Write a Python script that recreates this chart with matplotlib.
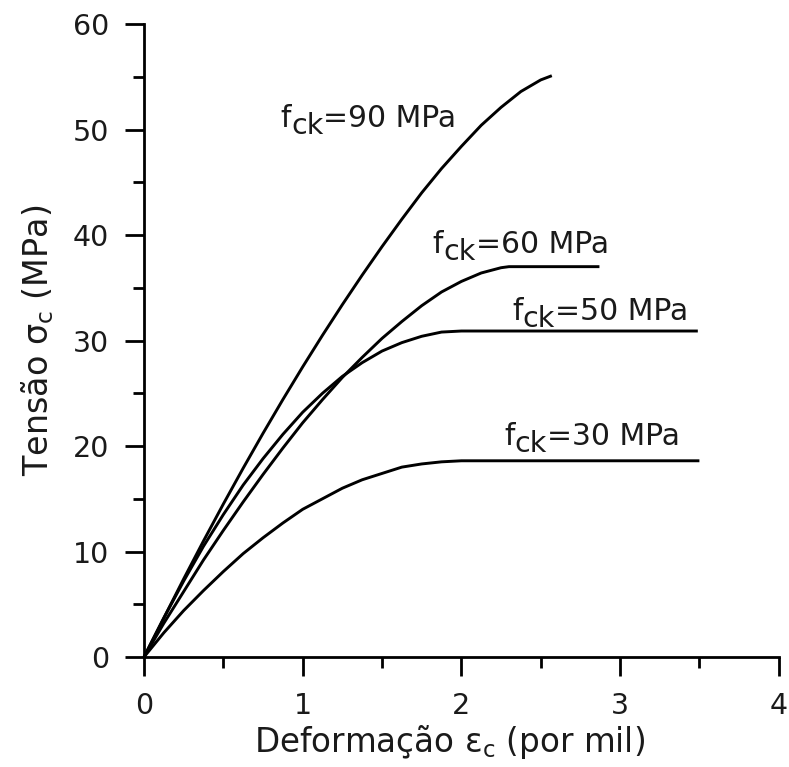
import matplotlib
matplotlib.use("Agg")
import matplotlib.pyplot as plt
from matplotlib.ticker import MultipleLocator

plt.rcParams['font.family'] = ['DejaVu Sans']
plt.rcParams['mathtext.fontset'] = 'dejavusans'

# deformacao (por mil) x tensao (MPa)
eps_30 = [0, 0.125, 0.25, 0.375, 0.5, 0.625, 0.75, 0.875, 1.0, 1.125, 1.25, 1.375,
          1.5, 1.625, 1.75, 1.875, 2.0, 3.5]
sig_30 = [0, 2.3, 4.4, 6.3, 8.1, 9.8, 11.3, 12.7, 14.0, 15.0, 16.0, 16.8,
          17.4, 18.0, 18.3, 18.5, 18.6, 18.6]

eps_50 = [0, 0.125, 0.25, 0.375, 0.5, 0.625, 0.75, 0.875, 1.0, 1.125, 1.25, 1.375,
          1.5, 1.625, 1.75, 1.875, 2.0, 3.49]
sig_50 = [0, 3.7, 7.2, 10.5, 13.5, 16.3, 18.8, 21.1, 23.2, 25.0, 26.6, 27.9,
          29.0, 29.8, 30.4, 30.8, 30.9, 30.9]

eps_60 = [0, 0.125, 0.25, 0.375, 0.5, 0.625, 0.75, 0.875, 1.0, 1.125, 1.25, 1.375,
          1.5, 1.625, 1.75, 1.875, 2.0, 2.125, 2.25, 2.3, 2.87]
sig_60 = [0, 3.2, 6.2, 9.2, 12.0, 14.7, 17.3, 19.8, 22.2, 24.4, 26.5, 28.4,
          30.2, 31.8, 33.3, 34.6, 35.6, 36.4, 36.9, 37.0, 37.0]

eps_90 = [0, 0.125, 0.25, 0.375, 0.5, 0.625, 0.75, 0.875, 1.0, 1.125, 1.25, 1.375,
          1.5, 1.625, 1.75, 1.875, 2.0, 2.125, 2.25, 2.375, 2.5, 2.57]
sig_90 = [0, 3.7, 7.4, 11.0, 14.5, 17.9, 21.2, 24.4, 27.5, 30.5, 33.4, 36.2,
          38.9, 41.5, 44.0, 46.3, 48.4, 50.4, 52.1, 53.6, 54.7, 55.1]

fck_values = ["90", "60", "50", "30"]
label_pos = [(0.86, 50.2), (1.82, 38.3), (2.32, 31.9), (2.27, 20.1)]

fig = plt.figure(figsize=(7.89, 7.67), dpi=100)
ax = fig.add_axes([0.1825, 0.1434, 0.8045, 0.8253])

for e, s in [(eps_30, sig_30), (eps_50, sig_50), (eps_60, sig_60), (eps_90, sig_90)]:
    ax.plot(e, s, color='black', lw=2.1, clip_on=False,
            solid_capstyle='butt', solid_joinstyle='round')

# rotulos "fck=.. MPa" com o "ck" rebaixado, em tamanho quase normal
fs = 21.5
txt_color = '#1a1a1a'
for v, (x, y) in zip(fck_values, label_pos):
    t1 = ax.text(x, y, "f", fontsize=fs, color=txt_color, ha='left', va='baseline')
    t2 = ax.annotate("ck", xy=(1, 0), xycoords=t1, xytext=(0, -5), textcoords='offset points',
                     fontsize=fs - 1, color=txt_color, ha='left', va='bottom')
    ax.annotate("=" + v + " MPa", xy=(1, 0), xycoords=t2, xytext=(0, 5), textcoords='offset points',
                fontsize=fs, color=txt_color, ha='left', va='bottom')

ax.set_xlim(0, 4)
ax.set_ylim(0, 60)
ax.xaxis.set_major_locator(MultipleLocator(1))
ax.xaxis.set_minor_locator(MultipleLocator(0.5))
ax.yaxis.set_major_locator(MultipleLocator(10))
ax.yaxis.set_minor_locator(MultipleLocator(5))

for side in ['top', 'right']:
    ax.spines[side].set_visible(False)
for side in ['left', 'bottom']:
    ax.spines[side].set_linewidth(2)

ax.tick_params(which='major', direction='out', length=14, width=2, labelsize=20.5, labelcolor=txt_color)
ax.tick_params(which='minor', direction='out', length=8, width=2)
ax.tick_params(axis='x', which='major', pad=11)
ax.tick_params(axis='y', which='major', pad=11)

ax.set_xlabel(r"Deformação ε$_{\mathrm{c}}$ (por mil)", fontsize=23.5, color=txt_color, labelpad=5)
ax.set_ylabel(r"Tensão σ$_{\mathrm{c}}$ (MPa)", fontsize=24, color=txt_color, labelpad=12)
ax.xaxis.set_label_coords(0.482, -0.105)

fig.savefig("out.png", dpi=100)
